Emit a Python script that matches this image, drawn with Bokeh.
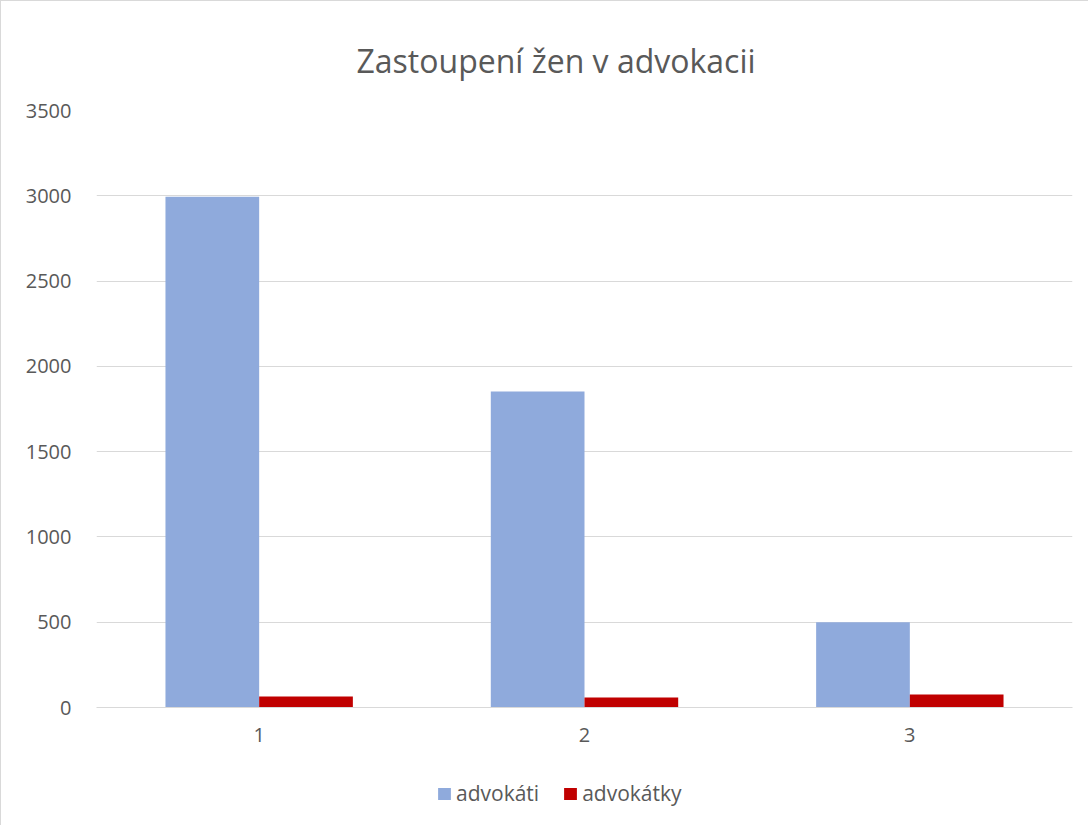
from bokeh.plotting import figure
from bokeh.layouts import column
from bokeh.models import Legend, LegendItem, FixedTicker, Range1d, ColumnDataSource
from bokeh.embed import file_html
from bokeh.resources import INLINE

categories = ["1", "2", "3"]
advokati = [2995, 1852, 500]
advokatky = [64, 59, 76]
y_ticks = [0, 500, 1000, 1500, 2000, 2500, 3000, 3500]
series_names = ["advokáti", "advokátky"]
series_colors = ["#8faadc", "#c00000"]

FONT = "Open Sans"
GREY = "#595959"

xs = [i + 1 for i in range(len(categories))]
bw = 0.288
src = ColumnDataSource(dict(
    x1=[x - bw / 2 for x in xs], x2=[x + bw / 2 for x in xs],
    a=advokati, b=advokatky))

p = figure(width=1088, height=760, output_backend="svg", toolbar_location=None,
           x_range=Range1d(0.5, 3.5), y_range=Range1d(0, 3500),
           min_border_left=95, min_border_right=17, min_border_top=109,
           min_border_bottom=54)

p.vbar(x="x1", top="a", width=bw, source=src, color=series_colors[0], line_color=None)
p.vbar(x="x2", top="b", width=bw, source=src, color=series_colors[1], line_color=None)

p.title.text = "Zastoupení žen v advokacii"
p.title.align = "left"
p.title.offset = 260
p.title.text_font = FONT
p.title.text_font_size = "32px"
p.title.text_font_style = "normal"
p.title.text_color = GREY
p.title.standoff = 57

p.outline_line_color = None
p.xgrid.grid_line_color = None
p.ygrid.grid_line_color = "#d9d9d9"
p.ygrid.ticker = FixedTicker(ticks=y_ticks)

for ax in (p.xaxis, p.yaxis):
    ax.major_tick_line_color = None
    ax.minor_tick_line_color = None
    ax.major_tick_out = 0
    ax.major_tick_in = 0
    ax.minor_tick_out = 0
    ax.major_label_text_font = FONT
    ax.major_label_text_font_size = "20px"
    ax.major_label_text_color = GREY

p.yaxis.ticker = FixedTicker(ticks=y_ticks)
p.yaxis.axis_line_color = None
p.yaxis.major_label_standoff = 25

p.xaxis.ticker = FixedTicker(ticks=xs)
p.xaxis.major_label_overrides = {x: c for x, c in zip(xs, categories)}
p.xaxis.axis_line_color = "#d9d9d9"
p.xaxis.major_label_standoff = 20

# legend strip below the chart (legend-only renderers hold a NaN, so nothing is drawn)
p2 = figure(width=1088, height=65, output_backend="svg", toolbar_location=None,
            x_axis_type=None, y_axis_type=None, min_border=0,
            x_range=Range1d(0, 1), y_range=Range1d(0, 1))
p2.outline_line_color = None
p2.xgrid.visible = False
p2.ygrid.visible = False
items = []
for name, col in zip(series_names, series_colors):
    r = p2.vbar(x=[0.5], top=[float("nan")], width=0.1, color=col, line_color=None)
    items.append(LegendItem(label=name, renderers=[r]))
legend = Legend(items=items, orientation="horizontal", location=(340, 19),
                label_text_font=FONT, label_text_font_size="21px",
                label_text_color=GREY, glyph_width=16, glyph_height=15,
                border_line_color=None, background_fill_alpha=0,
                spacing=23, label_standoff=4, padding=0, margin=0)
p2.add_layout(legend)

layout = column(p, p2, spacing=0)
layout.styles = {"border-left": "1px solid #d9d9d9", "border-top": "1px solid #d9d9d9"}

open("out.html", "w").write(file_html(layout, INLINE))
